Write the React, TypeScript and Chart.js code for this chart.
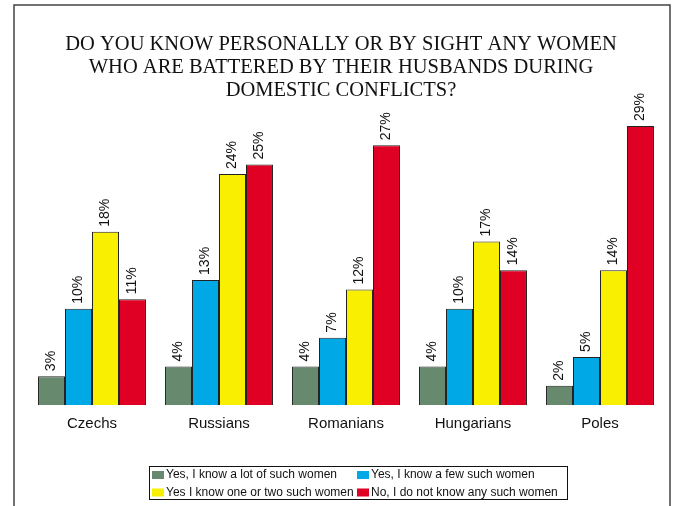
import React, { useEffect, useRef } from "react";
import { Chart, registerables } from "chart.js";

Chart.register(...registerables);

const titleLines = [
  "DO YOU KNOW PERSONALLY OR BY SIGHT ANY WOMEN",
  "WHO ARE BATTERED BY THEIR HUSBANDS DURING",
  "DOMESTIC CONFLICTS?",
];
const categories = ["Czechs", "Russians", "Romanians", "Hungarians", "Poles"];
const seriesNames = [
  "Yes, I know a lot of such women",
  "Yes, I know a few such women",
  "Yes I know one or two such women",
  "No, I do not know any such women",
];
const lotValues = [3, 4, 4, 4, 2];
const fewValues = [10, 13, 7, 10, 5];
const oneTwoValues = [18, 24, 12, 17, 14];
const noneValues = [11, 25, 27, 14, 29];
const seriesColors = ["#678a6f", "#00a8e6", "#f8f000", "#e00024"];

const SANS = "'Liberation Sans', Arial, sans-serif";
const SERIF = "'Liberation Serif', 'Times New Roman', serif";

const drawPlugin = {
  id: "customDraw",
  afterDraw(chart: any) {
    const ctx = chart.ctx;
    ctx.save();
    // frame
    ctx.strokeStyle = "#444";
    ctx.lineWidth = 1.5;
    ctx.beginPath();
    ctx.moveTo(14, 510);
    ctx.lineTo(14, 5);
    ctx.lineTo(670, 5);
    ctx.lineTo(670, 510);
    ctx.stroke();

    // title
    ctx.fillStyle = "#111";
    ctx.font = `20.5px ${SERIF}`;
    ctx.textAlign = "center";
    ctx.textBaseline = "middle";
    titleLines.forEach((line, i) => {
      ctx.fillText(line, 341, 45 + i * 23);
    });

    // category labels
    const xScale = chart.scales.x;
    ctx.font = `15px ${SANS}`;
    categories.forEach((c, i) => {
      ctx.fillText(c, xScale.getPixelForValue(i), 424);
    });

    // value labels
    ctx.font = `14px ${SANS}`;
    chart.data.datasets.forEach((ds: any, di: number) => {
      const meta = chart.getDatasetMeta(di);
      meta.data.forEach((el: any, i: number) => {
        ctx.save();
        ctx.translate(el.x, el.y - 5);
        ctx.rotate(-Math.PI / 2);
        ctx.textAlign = "left";
        ctx.textBaseline = "middle";
        ctx.fillText(ds.data[i] + "%", 0, 0);
        ctx.restore();
      });
    });

    // legend
    ctx.strokeStyle = "#111";
    ctx.lineWidth = 1;
    ctx.strokeRect(149.5, 466.5, 418, 33);
    ctx.font = `12px ${SANS}`;
    ctx.textAlign = "left";
    ctx.textBaseline = "middle";
    const cols = [152, 357];
    const rows = [475, 492.5];
    chart.data.datasets.forEach((ds: any, di: number) => {
      const cx = cols[di % 2];
      const cy = rows[Math.floor(di / 2)];
      ctx.fillStyle = ds.backgroundColor;
      ctx.fillRect(cx, cy - 4, 12, 8);
      ctx.fillStyle = "#111";
      ctx.fillText(ds.label, cx + 14, cy);
    });
    ctx.restore();
  },
};

export default function App() {
  const ref = useRef<HTMLCanvasElement>(null);
  useEffect(() => {
    const valueSets = [lotValues, fewValues, oneTwoValues, noneValues];
    const chart = new Chart(ref.current!, {
      type: "bar",
      data: {
        labels: categories,
        datasets: valueSets.map((vals, i) => ({
          label: seriesNames[i],
          data: vals,
          backgroundColor: seriesColors[i],
          borderColor: "#222",
          borderWidth: 1,
          categoryPercentage: 0.85,
          barPercentage: 1,
        })),
      },
      options: {
        responsive: false,
        animation: false,
        layout: { padding: { left: 28.5, right: 13.5, top: 116.4, bottom: 101 } },
        scales: {
          x: { display: false },
          y: { display: false, min: 0, max: 30 },
        },
        plugins: {
          legend: { display: false },
          title: { display: false },
          tooltip: { enabled: false },
        },
      },
      plugins: [drawPlugin],
    });
    return () => chart.destroy();
  }, []);
  return (
    <div style={{ position: "absolute", left: 0, top: 0, width: 677, height: 506, background: "#fff" }}>
      <canvas ref={ref} width={677} height={506} style={{ display: "block" }} />
    </div>
  );
}
